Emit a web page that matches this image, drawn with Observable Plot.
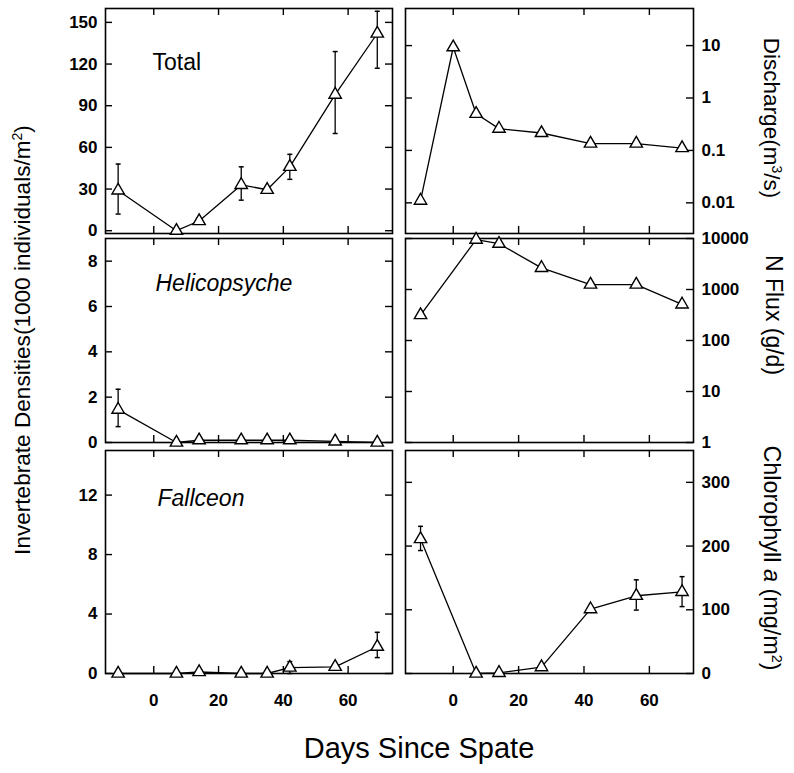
<!DOCTYPE html>
<html><head><meta charset="utf-8">
<script src="https://cdn.jsdelivr.net/npm/d3@7"></script>
<script src="https://cdn.jsdelivr.net/npm/@observablehq/plot@0.6"></script>
<style>
body{margin:0;background:#fff;}
#chart{position:relative;width:794px;height:773px;font-family:"Liberation Sans",Arial,Helvetica,sans-serif;color:#000;overflow:hidden;}
#chart svg{position:absolute;overflow:visible;}
.t{position:absolute;white-space:nowrap;line-height:1;}
.t sup{font-size:0.62em;vertical-align:0.55em;}
</style></head><body><div id="chart"></div>
<script>
// ---- data ----
const invDays   = [-11, 7, 14, 27, 35, 42, 56, 69];
const totalMean = [29, 0, 7, 33, 29.5, 46, 98, 142];
const totalLo   = [12, null, null, 22, null, 37, 70, 117];
const totalHi   = [48, null, null, 46, null, 55, 129, 158];
const heliMean  = [1.45, 0, 0.1, 0.1, 0.1, 0.1, 0.05, 0];
const heliLo    = [0.7, null, null, null, null, null, null, null];
const heliHi    = [2.35, null, null, null, null, null, null, null];
const fallMean  = [0, 0, 0.1, 0, 0, 0.4, 0.45, 1.8];
const fallLo    = [null, null, null, null, null, 0, null, 1.07];
const fallHi    = [null, null, null, null, null, 0.8, null, 2.77];

const qDays     = [-10, 0, 7, 14, 27, 42, 56, 70];
const discharge = [0.011, 9.3, 0.5, 0.26, 0.215, 0.135, 0.135, 0.111];
const nDays     = [-10, 7, 14, 27, 42, 56, 70];
const nFlux     = [315, 9500, 7900, 2650, 1250, 1250, 510];
const chlDays   = [-10, 7, 14, 27, 42, 56, 70];
const chlMean   = [211, 0, 1, 10, 101, 122, 128];
const chlLo     = [193, null, null, null, null, 99.5, 105];
const chlHi     = [231, null, null, null, null, 147, 152];

const xTicks     = [0, 20, 40, 60];
const totalTicks = [0, 30, 60, 90, 120, 150];
const heliTicks  = [0, 2, 4, 6, 8];
const fallTicks  = [0, 4, 8, 12];
const qTicks     = [0.01, 0.1, 1, 10];
const nTicks     = [1, 10, 100, 1000, 10000];
const chlTicks   = [0, 100, 200, 300];

const panelLabels = ["Total", "Helicopsyche", "Fallceon"];

// ---- helpers ----
const rows = (xs, ys, lo, hi) => xs.map((x, i) => ({x, y: ys[i], lo: lo ? lo[i] : null, hi: hi ? hi[i] : null}));
const capSymbol = {draw(ctx, size) { const r = Math.sqrt(size / Math.PI); ctx.moveTo(-r, 0); ctx.lineTo(r, 0); }};
const FONT = "Liberation Sans, Arial, Helvetica, sans-serif";
const chart = document.getElementById("chart");

function panel({left, top, width, height, mL, mR, mT, mB, xDomain, yOpts, yTicks, yFmt, side, data, label, italic, xLabels}) {
  const W = width - mL - mR, H = height - mT - mB;
  const bars = data.filter(d => d.lo != null && d.hi != null);
  const marks = [
    Plot.frame({stroke: "#000", strokeWidth: 1.6}),
    // inward ticks on all four sides
    Plot.tickX(xTicks, {x: d => d, insetTop: H - 7, stroke: "#000", strokeWidth: 1.4}),
    Plot.tickX(xTicks, {x: d => d, insetBottom: H - 7, stroke: "#000", strokeWidth: 1.4}),
    Plot.tickY(yTicks, {y: d => d, insetRight: W - 7, stroke: "#000", strokeWidth: 1.4}),
    Plot.tickY(yTicks, {y: d => d, insetLeft: W - 7, stroke: "#000", strokeWidth: 1.4}),
    Plot.axisY(yTicks, {anchor: side, label: null, tickSize: 0, tickPadding: 8, tickFormat: yFmt, fontSize: 17, fontWeight: "bold", fill: "#000"}),
    Plot.ruleX(bars, {x: "x", y1: "lo", y2: "hi", stroke: "#000", strokeWidth: 1.3}),
    Plot.dot(bars, {x: "x", y: "lo", symbol: capSymbol, r: 2.5, stroke: "#000", strokeWidth: 1.5}),
    Plot.dot(bars, {x: "x", y: "hi", symbol: capSymbol, r: 2.5, stroke: "#000", strokeWidth: 1.5}),
    Plot.line(data, {x: "x", y: "y", stroke: "#000", strokeWidth: 1.3}),
    Plot.dot(data, {x: "x", y: "y", symbol: "triangle", r: 4.6, fill: "#fff", stroke: "#000", strokeWidth: 1.4})
  ];
  if (xLabels) marks.push(Plot.axisX(xTicks, {anchor: "bottom", label: null, tickSize: 0, tickPadding: 20, fontSize: 17, fontWeight: "bold", fill: "#000"}));
  if (label) marks.push(Plot.text([label.text], {frameAnchor: "top-left", textAnchor: "start", lineAnchor: "middle", dx: label.dx, dy: label.dy, fontSize: 23, fontStyle: italic ? "italic" : "normal", fill: "#000"}));
  const svg = Plot.plot({
    width, height, marginLeft: mL, marginRight: mR, marginTop: mT, marginBottom: mB,
    style: {background: "transparent", overflow: "visible", fontFamily: FONT, color: "#000"},
    x: {domain: xDomain, axis: null, label: null},
    y: {...yOpts, axis: null, label: null},
    marks
  });
  svg.style.left = left + "px";
  svg.style.top = top + "px";
  chart.appendChild(svg);
}

const L = {left: 0, width: 400, mL: 105, mR: 8, xDomain: [-14.9, 73.7], side: "left"};
const R = {left: 400, width: 394, mL: 5, mR: 101, xDomain: [-14.6, 73.5], side: "right"};
const R1 = {top: 0, height: 236, mT: 8, mB: 3};
const R2 = {top: 236, height: 210, mT: 2, mB: 4};
const R3 = {top: 446, height: 327, mT: 4, mB: 100};

panel({...L, ...R1, yOpts: {domain: [-2, 160]}, yTicks: totalTicks, yFmt: d => String(d),
  data: rows(invDays, totalMean, totalLo, totalHi), label: {text: panelLabels[0], dx: 47, dy: 54}});
panel({...L, ...R2, yOpts: {domain: [0, 9]}, yTicks: heliTicks, yFmt: d => String(d),
  data: rows(invDays, heliMean, heliLo, heliHi), label: {text: panelLabels[1], dx: 50, dy: 45}, italic: true});
panel({...L, ...R3, yOpts: {domain: [0, 15]}, yTicks: fallTicks, yFmt: d => String(d),
  data: rows(invDays, fallMean, fallLo, fallHi), label: {text: panelLabels[2], dx: 52, dy: 48}, italic: true, xLabels: true});

panel({...R, ...R1, yOpts: {type: "log", domain: [0.0026, 51]}, yTicks: qTicks, yFmt: d => String(d),
  data: rows(qDays, discharge)});
panel({...R, ...R2, yOpts: {type: "log", domain: [1, 10000]}, yTicks: nTicks, yFmt: d => String(d),
  data: rows(nDays, nFlux)});
panel({...R, ...R3, yOpts: {domain: [0, 350]}, yTicks: chlTicks, yFmt: d => String(d),
  data: rows(chlDays, chlMean, chlLo, chlHi), xLabels: true});

// ---- axis titles ----
function title(html, cx, cy, rot, size) {
  const d = document.createElement("div");
  d.className = "t";
  d.innerHTML = html;
  d.style.fontSize = size + "px";
  d.style.left = cx + "px";
  d.style.top = cy + "px";
  d.style.transform = `translate(-50%, -50%) rotate(${rot}deg)`;
  chart.appendChild(d);
}
title("Invertebrate Densities(1000 individuals/m<sup>2</sup>)", 22, 340, -90, 22.6);
title("Discharge(m<sup>3</sup>/s)", 771, 118, 90, 22.5);
title("N Flux (g/d)", 773, 315, 90, 23);
title("Chlorophyll <i>a</i> (mg/m<sup>2</sup>)", 772, 558, 90, 23.4);
title("Days Since Spate", 419, 748, 0, 29);
</script></body></html>
